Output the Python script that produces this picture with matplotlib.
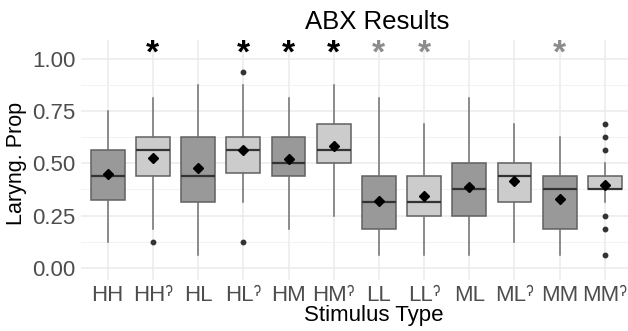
import numpy as np
import matplotlib
matplotlib.use('Agg')
import matplotlib.pyplot as plt

plt.rcParams['font.family'] = ['Liberation Sans', 'DejaVu Sans']

# Datos
labels = ['HH', 'HHˀ', 'HL', 'HLˀ', 'HM', 'HMˀ', 'LL', 'LLˀ', 'ML', 'MLˀ', 'MM', 'MMˀ']
q1 = [0.325, 0.44, 0.3125, 0.455, 0.44, 0.5, 0.1875, 0.25, 0.25, 0.3125, 0.1875, 0.375]
med = [0.4375, 0.5625, 0.4375, 0.5625, 0.5, 0.5625, 0.3125, 0.3125, 0.375, 0.4375, 0.375, 0.375]
q3 = [0.5625, 0.625, 0.625, 0.625, 0.625, 0.6875, 0.44, 0.44, 0.5, 0.5, 0.44, 0.44]
wlo = [0.125, 0.1875, 0.0625, 0.3125, 0.1875, 0.25, 0.0625, 0.0625, 0.0625, 0.125, 0.0625, 0.3125]
whi = [0.75, 0.8125, 0.875, 0.875, 0.8125, 0.875, 0.8125, 0.6875, 0.8125, 0.6875, 0.625, 0.5]
means = [0.448, 0.527, 0.478, 0.5625, 0.522, 0.582, 0.32, 0.345, 0.385, 0.415, 0.328, 0.396]
outliers = [[], [0.125], [], [0.9375, 0.125], [], [], [], [], [], [], [],
            [0.6875, 0.625, 0.5625, 0.25, 0.1875, 0.0625]]
glottal = [False, True, False, True, False, True, False, True, False, True, False, True]
stars = ['', 'k', '', 'k', 'k', 'k', 'g', 'g', '', '', 'g', '']

fig = plt.figure(figsize=(6.28, 3.31), dpi=100)
W, H = 628, 331
ax = fig.add_axes([80.6 / W, 1 - 280.2 / H, (632 - 80.6) / W, (280.2 - 40.2) / H])

pos = np.arange(1, len(labels) + 1)
stats = []
for i in range(len(labels)):
    stats.append(dict(med=med[i], q1=q1[i], q3=q3[i], whislo=wlo[i], whishi=whi[i],
                      fliers=outliers[i], mean=means[i]))

bp = ax.bxp(stats, positions=pos, widths=0.75, patch_artist=True, showmeans=True,
            showcaps=False, zorder=3,
            boxprops=dict(edgecolor='#606060', linewidth=1.1),
            whiskerprops=dict(color='#707070', linewidth=1.1),
            medianprops=dict(color='#333333', linewidth=1.6),
            flierprops=dict(marker='o', markerfacecolor='#333333', markeredgecolor='#333333',
                            markersize=3.2),
            meanprops=dict(marker='D', markerfacecolor='black', markeredgecolor='black',
                           markersize=5.5))
for patch, g in zip(bp['boxes'], glottal):
    patch.set_facecolor('#cccccc' if g else '#999999')

for p, s in zip(pos, stars):
    if s:
        ax.text(p, 1.025, '*', ha='center', va='center', fontsize=24, fontweight='bold',
                color='black' if s == 'k' else '#8c8c8c', zorder=4)

ax.set_xlim(0.4, 12.6)
ax.set_ylim(-0.06, 1.09)
ax.set_xticks(pos)
ax.set_xticklabels(labels)
ax.set_yticks([0, 0.25, 0.5, 0.75, 1.0])
ax.set_yticklabels(['0.00', '0.25', '0.50', '0.75', '1.00'])
ax.set_yticks(np.arange(0.125, 1.0, 0.25), minor=True)
ax.tick_params(axis='both', length=0, labelsize=16, labelcolor='#4d4d4d', pad=3.5)
ax.tick_params(axis='y', which='minor', length=0)
ax.grid(True, which='major', color='#ebebeb', linewidth=1.1, zorder=0)
ax.grid(True, which='minor', axis='y', color='#f2f2f2', linewidth=0.7, zorder=0)
for sp in ax.spines.values():
    sp.set_visible(False)

fig.text(17 / W, 1 - 163 / H, 'Laryng. Prop', rotation=90, ha='center', va='center', fontsize=15.5)
fig.text(374 / W, 1 - 316 / H, 'Stimulus Type', ha='center', va='center', fontsize=16)
fig.text(377 / W, 1 - 22 / H, 'ABX Results', ha='center', va='center', fontsize=18.5)

fig.savefig('out.png', dpi=100)
